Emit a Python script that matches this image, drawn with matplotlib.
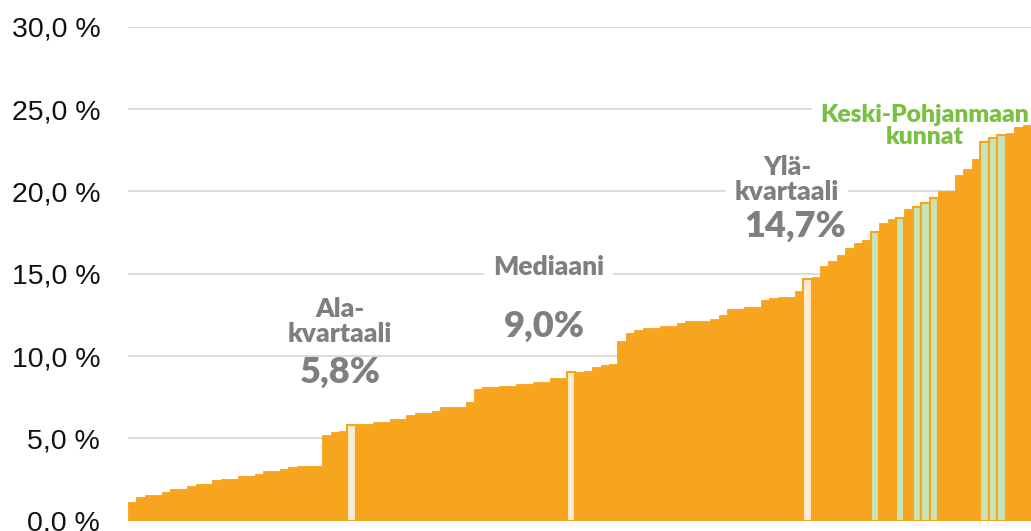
import matplotlib
matplotlib.use("Agg")
import matplotlib.pyplot as plt

# share of municipalities, sorted ascending (%)
values = [
    1.11, 1.42, 1.54, 1.54, 1.74, 1.90, 1.90, 2.10, 2.22, 2.22,
    2.47, 2.55, 2.55, 2.71, 2.71, 2.83, 3.03, 3.03, 3.12, 3.24,
    3.34, 3.34, 3.34, 5.20, 5.36, 5.44, 5.80, 5.87, 5.87, 5.99,
    5.99, 6.19, 6.19, 6.40, 6.56, 6.56, 6.68, 6.88, 6.88, 6.88,
    7.22, 8.01, 8.10, 8.10, 8.18, 8.18, 8.30, 8.30, 8.40, 8.40,
    8.68, 8.68, 9.00, 9.00, 9.09, 9.31, 9.43, 9.51, 10.89, 11.38,
    11.58, 11.68, 11.68, 11.80, 11.80, 12.00, 12.11, 12.11, 12.11, 12.27,
    12.49, 12.84, 12.84, 12.98, 12.98, 13.38, 13.50, 13.60, 13.60, 13.97,
    14.70, 14.78, 15.47, 15.79, 16.14, 16.58, 16.85, 17.05, 17.55, 18.06,
    18.32, 18.40, 18.95, 19.07, 19.28, 19.60, 20.04, 20.04, 21.00, 21.34,
    21.95, 23.02, 23.24, 23.41, 23.53, 23.90, 24.03,
]
quartile_idx = [26, 52, 80]           # ala-kvartaali, mediaani, ylä-kvartaali
kp_idx = [88, 91, 93, 94, 95, 101, 102, 103]  # Keski-Pohjanmaan kunnat
y_ticks = [0, 5, 10, 15, 20, 25, 30]

ORANGE = "#F7A51E"
CREAM = "#FDEBD3"
GREEN_FILL = "#C8E3B5"
GREEN_TEXT = "#7AC143"
GREY_TEXT = "#7F7F7F"

fig = plt.figure(figsize=(10.31, 5.31), dpi=100)
ax = fig.add_axes([128 / 1031, 10.4 / 531, 1 - 128 / 1031, 493.8 / 531])

x = list(range(len(values)))
colors = [ORANGE] * len(values)
lws = [0.6] * len(values)
for i in quartile_idx:
    colors[i] = CREAM
    lws[i] = 1.5
for i in kp_idx:
    colors[i] = GREEN_FILL
    lws[i] = 1.5
ax.bar(x, values, width=1.0, color=colors, edgecolor=ORANGE, linewidth=lws, zorder=3)

ax.set_xlim(-0.5, len(values) - 0.5)
ax.set_ylim(0, 30)
ax.set_yticks(y_ticks)
ax.set_yticklabels([f"{v:.1f} %".replace(".", ",") for v in y_ticks],
                   fontsize=20.5, family="Liberation Sans", color="#111111")
ax.tick_params(axis="y", length=0, pad=20)
ax.set_xticks([])
ax.grid(axis="y", color="#D9D9D9", linewidth=1.3, zorder=0)
ax.set_axisbelow(True)
for s in ax.spines.values():
    s.set_visible(False)

box = dict(boxstyle="square,pad=0.35", facecolor="white", edgecolor="none")
lab = dict(family="Lato", fontweight="heavy", ha="center", va="center", zorder=2)

ax.text(24.6, 12.1, "Ala-\nkvartaali", fontsize=19, color=GREY_TEXT,
        linespacing=1.05, bbox=box, **lab)
ax.text(24.6, 9.0, "5,8%", fontsize=26, color=GREY_TEXT, **lab)

ax.text(49.3, 15.4, "Mediaani", fontsize=19, color=GREY_TEXT, bbox=box, **lab)
ax.text(48.8, 11.8, "9,0%", fontsize=26, color=GREY_TEXT, **lab)

ax.text(77.6, 20.75, "Ylä-\nkvartaali", fontsize=19, color=GREY_TEXT,
        linespacing=1.05, bbox=box, **lab)
ax.text(78.6, 17.9, "14,7%", fontsize=26, color=GREY_TEXT, **lab)

ax.text(93.9, 24.0, "Keski-Pohjanmaan\nkunnat", fontsize=17.7, color=GREEN_TEXT,
        linespacing=1.0, bbox=box, **lab)

fig.savefig("out.png", dpi=100)
